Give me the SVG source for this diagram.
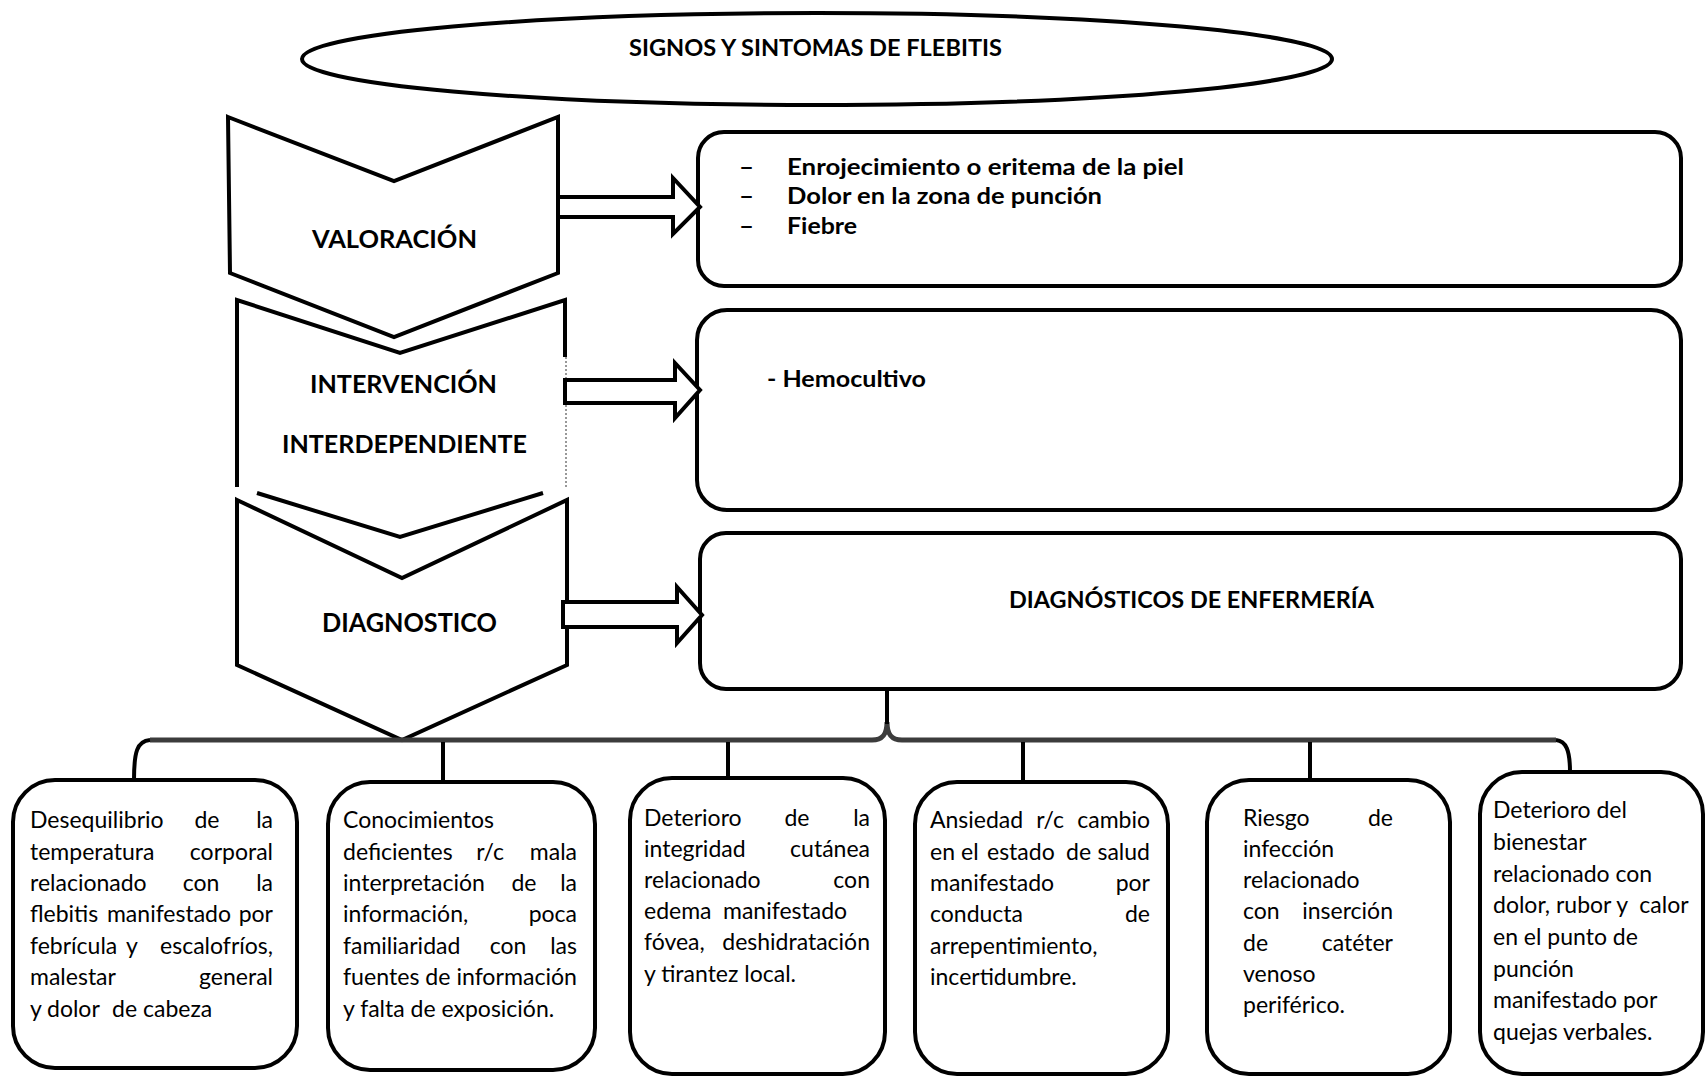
<svg xmlns="http://www.w3.org/2000/svg" width="1706" height="1078" viewBox="0 0 1706 1078">
<style>
.shape{fill:#fff;stroke:#000;stroke-width:4;stroke-linejoin:miter}
.open{fill:none;stroke:#000;stroke-width:4}
.hdr{font-family:Lato,'Open Sans','Liberation Sans',sans-serif;font-weight:bold;fill:#000}
.t{font-family:Lato,'Open Sans','Liberation Sans',sans-serif;font-size:23px;fill:#000}
.e{text-anchor:end}
.m{text-anchor:middle}
.bar{fill:none;stroke:#3c3c3c;stroke-width:5}
.drop{fill:none;stroke:#000;stroke-width:4}
</style>
<rect width="1706" height="1078" fill="#fff"/>

<g id="title">
<ellipse class="shape" cx="817" cy="59" rx="515" ry="46" stroke-width="4.5"/>
<text class="hdr" x="629" y="56" font-size="22" textLength="373" lengthAdjust="spacingAndGlyphs">SIGNOS Y SINTOMAS DE FLEBITIS</text>
</g>

<g id="valoracion">
<polygon class="shape" points="228,117 394,181 558,117 558,273 394,337 230,273"/>
<text class="hdr" x="312" y="248" font-size="25" textLength="165" lengthAdjust="spacingAndGlyphs">VALORACIÓN</text>
</g>

<g id="intervencion">
<path class="open" d="M237,487 L237,300 L400,353 L565,300 L565,357"/>
<line x1="566" y1="357" x2="566" y2="487" stroke="#777" stroke-width="1.5" stroke-dasharray="2,2"/>
<polyline class="open" points="257,493 400,537 543,493"/>
<text class="hdr" x="310" y="393" font-size="25" textLength="187" lengthAdjust="spacingAndGlyphs">INTERVENCIÓN</text>
<text class="hdr" x="282" y="453" font-size="25" textLength="245" lengthAdjust="spacingAndGlyphs">INTERDEPENDIENTE</text>
</g>

<g id="diagnostico">
<polygon class="shape" points="237,500 402,578 567,500 567,665 402,740 237,665"/>
<text class="hdr" x="322" y="632" font-size="26" textLength="175" lengthAdjust="spacingAndGlyphs">DIAGNOSTICO</text>
</g>

<g id="signos">
<rect class="shape" x="698" y="132" width="983" height="154" rx="26"/>
<text class="hdr" x="739" y="175" font-size="22" textLength="15" lengthAdjust="spacingAndGlyphs">–</text>
<text class="hdr" x="739" y="204" font-size="22" textLength="15" lengthAdjust="spacingAndGlyphs">–</text>
<text class="hdr" x="739" y="234" font-size="22" textLength="15" lengthAdjust="spacingAndGlyphs">–</text>
<text class="hdr" x="787" y="175" font-size="22" textLength="397" lengthAdjust="spacingAndGlyphs">Enrojecimiento o eritema de la piel</text>
<text class="hdr" x="787" y="204" font-size="22" textLength="315" lengthAdjust="spacingAndGlyphs">Dolor en la zona de punción</text>
<text class="hdr" x="787" y="234" font-size="22" textLength="70" lengthAdjust="spacingAndGlyphs">Fiebre</text>
</g>

<g id="hemocultivo">
<rect class="shape" x="697" y="310" width="984" height="200" rx="30"/>
<text class="hdr" x="767" y="387" font-size="22" textLength="159" lengthAdjust="spacingAndGlyphs">- Hemocultivo</text>
</g>

<g id="diagnosticos-enfermeria">
<rect class="shape" x="700" y="533" width="981" height="156" rx="26"/>
<text class="hdr" x="1009" y="608" font-size="22" textLength="365" lengthAdjust="spacingAndGlyphs">DIAGNÓSTICOS DE ENFERMERÍA</text>
</g>

<g id="connectors">
<polygon class="shape" points="558,197 673,197 673,178 700,207 673,234 673,217 558,217"/>
<polygon class="shape" points="565,380 675,380 675,363 700,390 675,418 675,403 565,403"/>
<polygon class="shape" points="563,602 677,602 677,587 702,615 677,643 677,627 563,627"/>
<path class="bar" d="M150,740 L872,740 C883,740 887,734 887,722 C887,734 891,740 902,740 L1556,740"/>
<path class="drop" d="M887,691 L887,724"/>
<path class="drop" d="M134,780 C134,752 137,741 150,740"/>
<path class="drop" d="M1556,740 C1566,741 1570,750 1570,772"/>
<line class="drop" x1="443" y1="742" x2="443" y2="782"/>
<line class="drop" x1="728" y1="742" x2="728" y2="778"/>
<line class="drop" x1="1023" y1="742" x2="1023" y2="782"/>
<line class="drop" x1="1310" y1="742" x2="1310" y2="780"/>
</g>

<g id="dx1">
<rect class="shape" x="13" y="780" width="284" height="288" rx="42"/>
<text class="t" x="30" y="828">Desequilibrio</text><text class="t m" x="207" y="828">de</text><text class="t e" x="273" y="828">la</text>
<text class="t" x="30" y="859.5">temperatura</text><text class="t e" x="273" y="859.5">corporal</text>
<text class="t" x="30" y="891">relacionado</text><text class="t m" x="201" y="891">con</text><text class="t e" x="273" y="891">la</text>
<text class="t" x="30" y="922">flebitis</text><text class="t m" x="169" y="922">manifestado</text><text class="t e" x="273" y="922">por</text>
<text class="t" x="30" y="953.5">febrícula</text><text class="t m" x="132" y="953.5">y</text><text class="t e" x="273" y="953.5">escalofríos,</text>
<text class="t" x="30" y="985">malestar</text><text class="t e" x="273" y="985">general</text>
<text class="t" x="30" y="1016.5">y</text><text class="t" x="47" y="1016.5">dolor</text><text class="t" x="112" y="1016.5">de</text><text class="t" x="143" y="1016.5">cabeza</text>
</g>

<g id="dx2">
<rect class="shape" x="328" y="782" width="267" height="288" rx="42"/>
<text class="t" x="343" y="828">Conocimientos</text>
<text class="t" x="343" y="859.5">deficientes</text><text class="t m" x="490" y="859.5">r/c</text><text class="t e" x="577" y="859.5">mala</text>
<text class="t" x="343" y="891">interpretación</text><text class="t m" x="524" y="891">de</text><text class="t e" x="577" y="891">la</text>
<text class="t" x="343" y="922">información,</text><text class="t e" x="577" y="922">poca</text>
<text class="t" x="343" y="953.5">familiaridad</text><text class="t m" x="508" y="953.5">con</text><text class="t e" x="577" y="953.5">las</text>
<text class="t" x="343" y="985" textLength="234" lengthAdjust="spacingAndGlyphs">fuentes de información</text>
<text class="t" x="343" y="1016.5">y falta de exposición.</text>
</g>

<g id="dx3">
<rect class="shape" x="630" y="778" width="255" height="296" rx="42"/>
<text class="t" x="644" y="826">Deterioro</text><text class="t m" x="797" y="826">de</text><text class="t e" x="870" y="826">la</text>
<text class="t" x="644" y="857">integridad</text><text class="t e" x="870" y="857">cutánea</text>
<text class="t" x="644" y="888">relacionado</text><text class="t e" x="870" y="888">con</text>
<text class="t" x="644" y="919">edema</text><text class="t" x="723" y="919">manifestado</text>
<text class="t" x="644" y="950">fóvea,</text><text class="t e" x="870" y="950">deshidratación</text>
<text class="t" x="644" y="982">y tirantez local.</text>
</g>

<g id="dx4">
<rect class="shape" x="915" y="782" width="253" height="292" rx="42"/>
<text class="t" x="930" y="828">Ansiedad</text><text class="t m" x="1050" y="828">r/c</text><text class="t e" x="1150" y="828">cambio</text>
<text class="t" x="930" y="859.5">en</text><text class="t" x="961" y="859.5">el</text><text class="t" x="987" y="859.5">estado</text><text class="t" x="1066" y="859.5">de</text><text class="t e" x="1150" y="859.5">salud</text>
<text class="t" x="930" y="891">manifestado</text><text class="t e" x="1150" y="891">por</text>
<text class="t" x="930" y="922">conducta</text><text class="t e" x="1150" y="922">de</text>
<text class="t" x="930" y="953.5">arrepentimiento,</text>
<text class="t" x="930" y="985">incertidumbre.</text>
</g>

<g id="dx5">
<rect class="shape" x="1207" y="780" width="243" height="294" rx="42"/>
<text class="t" x="1243" y="826">Riesgo</text><text class="t e" x="1393" y="826">de</text>
<text class="t" x="1243" y="857">infección</text>
<text class="t" x="1243" y="888">relacionado</text>
<text class="t" x="1243" y="919">con</text><text class="t e" x="1393" y="919">inserción</text>
<text class="t" x="1243" y="951">de</text><text class="t e" x="1393" y="951">catéter</text>
<text class="t" x="1243" y="982">venoso</text>
<text class="t" x="1243" y="1013">periférico.</text>
</g>

<g id="dx6">
<rect class="shape" x="1480" y="772" width="223" height="302" rx="42"/>
<text class="t" x="1493" y="818">Deterioro del</text>
<text class="t" x="1493" y="850">bienestar</text>
<text class="t" x="1493" y="882">relacionado con</text>
<text class="t" x="1493" y="913" xml:space="preserve">dolor, rubor y  calor</text>
<text class="t" x="1493" y="945">en el punto de</text>
<text class="t" x="1493" y="977">punción</text>
<text class="t" x="1493" y="1008">manifestado por</text>
<text class="t" x="1493" y="1040">quejas verbales.</text>
</g>
</svg>
